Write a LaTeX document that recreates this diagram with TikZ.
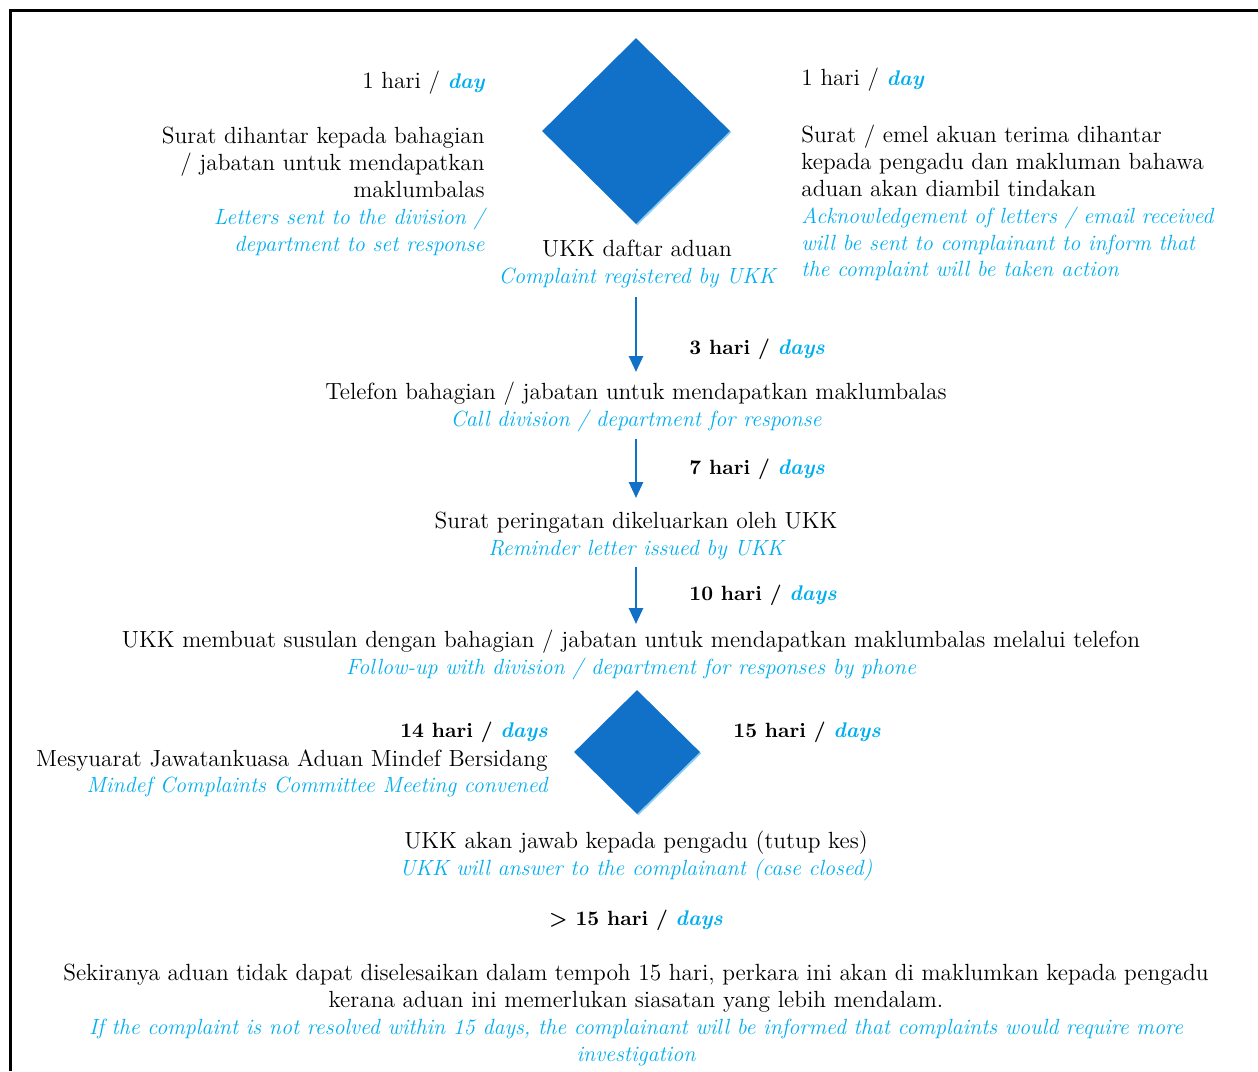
\documentclass[tikz,border=0pt]{standalone}
\usepackage{xcolor}
\usetikzlibrary{arrows.meta,shapes.geometric,shadows}
\definecolor{ukkblue}{RGB}{17,112,200}
\definecolor{ukkcyan}{RGB}{0,174,239}
\definecolor{ukkshade}{RGB}{140,205,240}
\newcommand{\en}[1]{\textcolor{ukkcyan}{\fontsize{11}{13.4}\selectfont\itshape #1}}
\newcommand{\dy}[1]{\textcolor{ukkcyan}{\fontsize{10.6}{13.4}\selectfont\bfseries\itshape #1}}
\newcommand{\hb}[1]{{\fontsize{10.3}{13.4}\selectfont\bfseries #1}}

\begin{document}
\begin{tikzpicture}[x=0.5pt,y=-0.5pt,>=Latex,
  txt/.style={font=\fontsize{11.7}{13.4}\selectfont, inner sep=0pt},
  gem/.style={diamond, fill=ukkblue, inner sep=0pt,
    drop shadow={shadow xshift=.7pt, shadow yshift=-.7pt, fill=ukkshade, opacity=1}},
  flow/.style={draw=ukkblue, line width=1.3pt,
    -{Triangle[width=7pt,length=8pt]}}]
  \useasboundingbox (0,0) rectangle (1258,1071);
  % frame
  \draw[line width=1.5pt] (10,1071) -- (10,10) -- (1258,10);

  % first diamond
  \node[gem, minimum width=94pt, minimum height=93pt] (d1) at (636,131) {};
  \node[txt, anchor=east] (t1L) at (485,83) {1 hari / \dy{day}};
  \node[txt, anchor=north east, align=right] (sent) at (485,127)
    {Surat dihantar kepada bahagian\\ / jabatan untuk mendapatkan\\ maklumbalas\\
     \en{Letters sent to the division /}\\ \en{department to set response}};
  \node[txt, anchor=west] (t1R) at (801,80) {1 hari / \dy{day}};
  \node[txt, anchor=north west, align=left] (ack) at (801,125)
    {Surat / emel akuan terima dihantar\\ kepada pengadu dan makluman bahawa\\ aduan akan diambil tindakan\\
     \en{Acknowledgement of letters / email received}\\ \en{will be sent to complainant to inform that}\\
     \en{the complaint will be taken action}};
  \node[txt, anchor=north, align=center] (reg) at (637,240)
    {UKK daftar aduan\\ \en{Complaint registered by UKK}};

  % steps
  \node[txt, anchor=west] (t3) at (689,349) {\hb{3 hari /} \dy{days}};
  \node[txt, anchor=north, align=center] (tel) at (636,382)
    {Telefon bahagian / jabatan untuk mendapatkan maklumbalas\\ \en{Call division / department for response}};
  \node[txt, anchor=west] (t7) at (689,469) {\hb{7 hari /} \dy{days}};
  \node[txt, anchor=north, align=center] (rem) at (636,512)
    {Surat peringatan dikeluarkan oleh UKK\\ \en{Reminder letter issued by UKK}};
  \node[txt, anchor=west] (t10) at (689,595) {\hb{10 hari /} \dy{days}};
  \node[txt, anchor=north, align=center] (fol) at (631,630)
    {UKK membuat susulan dengan bahagian / jabatan untuk mendapatkan maklumbalas melalui telefon\\
     \en{Follow-up with division / department for responses by phone}};

  \draw[flow, shorten <=4pt, shorten >=5pt] (tel.north |- reg.south) -- (tel.north);
  \draw[flow, shorten <=3pt, shorten >=7pt] (tel.south) -- (rem.north);
  \draw[flow, shorten <=3pt, shorten >=3pt] (rem.south) -- (rem.south |- fol.north);

  % second diamond
  \node[gem, minimum width=63pt, minimum height=62pt] (d2) at (637,752) {};
  \node[txt, anchor=east] (t14) at (548,732) {\hb{14 hari /} \dy{days}};
  \node[txt, anchor=north east, align=right] (meet) at (548,749)
    {Mesyuarat Jawatankuasa Aduan Mindef Bersidang\\ \en{Mindef Complaints Committee Meeting convened}};
  \node[txt, anchor=west] (t15) at (733,732) {\hb{15 hari /} \dy{days}};
  \node[txt, anchor=north, align=center] (ans) at (636,831)
    {UKK akan jawab kepada pengadu (tutup kes)\\ \en{UKK will answer to the complainant (case closed)}};

  % beyond 15 days
  \node[txt] (tmore) at (636,920) {\hb{\textgreater{} 15 hari /} \dy{days}};
  \node[txt, anchor=north, align=center] (inv) at (636,964)
    {Sekiranya aduan tidak dapat diselesaikan dalam tempoh 15 hari, perkara ini akan di maklumkan kepada pengadu\\
     kerana aduan ini memerlukan siasatan yang lebih mendalam.\\
     \en{If the complaint is not resolved within 15 days, the complainant will be informed that complaints would require more}\\
     \en{investigation}};
\end{tikzpicture}
\end{document}
